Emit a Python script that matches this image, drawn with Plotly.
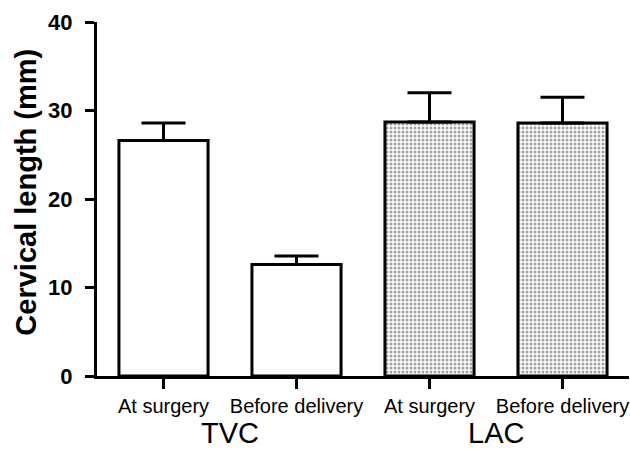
import plotly.graph_objects as go

categories = ["At surgery", "Before delivery", "At surgery", "Before delivery"]
groups = ["TVC", "LAC"]
means = [26.6, 12.6, 28.7, 28.6]
errors = [2.0, 0.95, 3.3, 2.9]
yticks = [0, 10, 20, 30, 40]

xpos = list(range(len(categories)))
fnt = "Liberation Sans, Arial, sans-serif"

fig = go.Figure()
fig.add_trace(go.Bar(
    x=xpos[:2], y=means[:2], width=0.67,
    marker=dict(color="white", line=dict(color="black", width=3)),
    error_y=dict(type="data", array=errors[:2], arrayminus=[0, 0], symmetric=False,
                 color="black", thickness=3, width=22),
    showlegend=False,
))
fig.add_trace(go.Bar(
    x=xpos[2:], y=means[2:], width=0.67,
    marker=dict(color="white", line=dict(color="black", width=3),
                pattern=dict(shape=".", fgcolor="#444444", bgcolor="white", size=4, solidity=0.45)),
    error_y=dict(type="data", array=errors[2:], arrayminus=[0, 0], symmetric=False,
                 color="black", thickness=3, width=22),
    showlegend=False,
))

fig.update_layout(
    width=630, height=450,
    margin=dict(l=97, r=1, t=22, b=74),
    plot_bgcolor="white", paper_bgcolor="white",
    bargap=0.33,
    xaxis=dict(range=[-0.5, 3.5], tickvals=xpos, ticktext=categories,
               showline=True, linecolor="black", linewidth=3, showgrid=False, zeroline=False,
               ticks="outside", ticklen=10, tickwidth=3, tickcolor="black",
               tickfont=dict(family=fnt, size=20, color="black"), ticklabelstandoff=0),
    yaxis=dict(range=[0, 40], tickvals=yticks, ticktext=[f"<b>{v}</b>" for v in yticks],
               showline=True, linecolor="black", linewidth=3, showgrid=False, zeroline=False,
               ticks="outside", ticklen=9, tickwidth=3, tickcolor="black",
               tickfont=dict(family=fnt, size=22, color="black"), ticklabelstandoff=8),
    annotations=[
        dict(text="<b>Cervical length (mm)</b>", textangle=-90, xref="paper", yref="paper",
             x=0, y=0.518, xanchor="center", yanchor="middle", xshift=-71, showarrow=False,
             font=dict(family=fnt, size=29, color="black")),
        dict(text=groups[0], xref="x", yref="paper", x=0.5, y=0, yshift=-57,
             xanchor="center", yanchor="middle", showarrow=False,
             font=dict(family=fnt, size=29, color="black")),
        dict(text=groups[1], xref="x", yref="paper", x=2.5, y=0, yshift=-57,
             xanchor="center", yanchor="middle", showarrow=False,
             font=dict(family=fnt, size=29, color="black")),
    ],
)

fig.write_html("out.html", config={"displayModeBar": False},
               post_script="document.body.style.margin='0';")
